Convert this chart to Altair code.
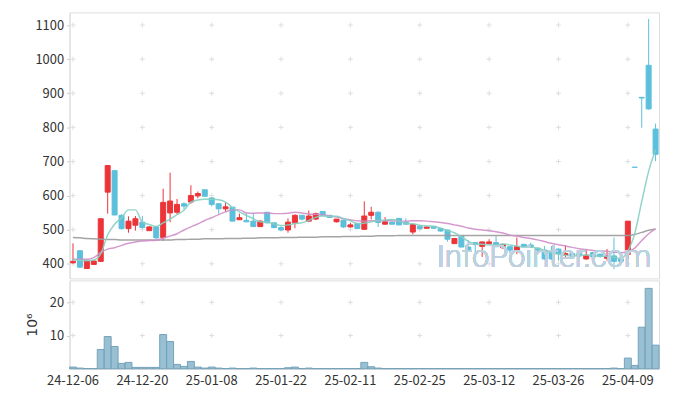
import altair as alt
import pandas as pd

dates = [
    "24-12-06", "24-12-09", "24-12-10", "24-12-11", "24-12-12", "24-12-13", "24-12-16", "24-12-17",
    "24-12-18", "24-12-19", "24-12-20", "24-12-23", "24-12-24", "24-12-26", "24-12-27", "24-12-30",
    "25-01-02", "25-01-03", "25-01-06", "25-01-07", "25-01-08", "25-01-09", "25-01-10", "25-01-13",
    "25-01-14", "25-01-15", "25-01-16", "25-01-17", "25-01-20", "25-01-21", "25-01-22", "25-01-23",
    "25-01-24", "25-01-31", "25-02-03", "25-02-04", "25-02-05", "25-02-06", "25-02-07", "25-02-10",
    "25-02-11", "25-02-12", "25-02-13", "25-02-14", "25-02-17", "25-02-18", "25-02-19", "25-02-20",
    "25-02-21", "25-02-24", "25-02-25", "25-02-26", "25-02-27", "25-02-28", "25-03-04", "25-03-05",
    "25-03-06", "25-03-07", "25-03-10", "25-03-11", "25-03-12", "25-03-13", "25-03-14", "25-03-17",
    "25-03-18", "25-03-19", "25-03-20", "25-03-21", "25-03-24", "25-03-25", "25-03-26", "25-03-27",
    "25-03-28", "25-03-31", "25-04-01", "25-04-02", "25-04-03", "25-04-04", "25-04-07", "25-04-08",
    "25-04-09", "25-04-10", "25-04-11", "25-04-14", "25-04-15",
]
opens = [
    403, 438, 386, 398, 407, 610, 673, 542, 503, 513, 522, 497, 508, 477, 549, 551,
    576, 581, 599, 617, 593, 576, 561, 566, 529, 527, 525, 509, 551, 520, 506, 499,
    520, 542, 525, 531, 553, 542, 523, 528, 508, 518, 501, 542, 551, 516, 522, 533,
    522, 493, 510, 504, 510, 503, 499, 459, 481, 449, 462, 451, 459, 462, 447, 450,
    440, 457, 455, 446, 440, 438, 443, 426, 430, 430, 414, 433, 428, 416, 423, 414,
    428, 683, 888, 982, 795,
]
highs = [
    460, 440, 410, 410, 532, 688, 673, 545, 539, 540, 540, 510, 510, 620, 667, 590,
    580, 630, 612, 617, 594, 578, 580, 566, 547, 549, 549, 528, 551, 521, 510, 533,
    545, 543, 556, 550, 553, 543, 531, 528, 520, 518, 583, 567, 554, 537, 523, 533,
    533, 517, 512, 509, 511, 504, 500, 475, 481, 469, 464, 465, 472, 481, 458, 451,
    477, 458, 462, 447, 452, 452, 445, 454, 432, 432, 440, 434, 430, 443, 477, 414,
    525, 683, 888, 1118, 811,
]
lows = [
    400, 388, 385, 397, 406, 547, 543, 500, 491, 497, 503, 497, 472, 467, 522, 545,
    559, 576, 592, 596, 568, 547, 553, 525, 529, 522, 508, 508, 518, 504, 496, 491,
    504, 527, 522, 528, 540, 534, 521, 505, 506, 502, 499, 530, 508, 514, 515, 513,
    515, 486, 500, 503, 503, 494, 465, 458, 449, 438, 428, 420, 457, 449, 443, 430,
    428, 448, 447, 434, 412, 412, 409, 418, 421, 415, 412, 418, 418, 409, 384, 397,
    414, 683, 799, 852, 701,
]
closes = [
    407, 390, 408, 408, 532, 688, 543, 503, 525, 532, 506, 508, 476, 580, 584, 574,
    569, 600, 606, 598, 574, 561, 567, 525, 535, 523, 509, 525, 520, 506, 499, 522,
    542, 531, 540, 547, 542, 536, 531, 508, 514, 503, 540, 551, 521, 523, 516, 514,
    516, 515, 503, 508, 504, 496, 472, 474, 449, 440, 457, 464, 464, 450, 457, 440,
    450, 450, 449, 435, 414, 414, 430, 430, 423, 423, 425, 420, 421, 423, 407, 407,
    525, 683, 886, 854, 721,
]
# volume in millions of shares
volumes = [
    0.5, 0.2, 0.05, 0.05, 5.8, 9.7, 6.7, 1.6, 1.9, 0.4, 0.4, 0.4, 0.4, 10.3, 8.2, 1.3,
    0.7, 2.2, 0.5, 0.2, 0.5, 0.2, 0.05, 0.2, 0.05, 0.05, 0.2, 0.05, 0.05, 0.05, 0.05, 0.3,
    0.5, 0.05, 0.2, 0.05, 0.05, 0.05, 0.05, 0.05, 0.05, 0.05, 1.9, 0.6, 0.2, 0.05, 0.05, 0.05,
    0.05, 0.05, 0.05, 0.05, 0.05, 0.05, 0.05, 0.05, 0.05, 0.05, 0.05, 0.05, 0.05, 0.05, 0.05, 0.05,
    0.05, 0.05, 0.05, 0.05, 0.05, 0.05, 0.05, 0.05, 0.05, 0.05, 0.05, 0.05, 0.05, 0.05, 0.2, 0.05,
    3.2, 1.0, 12.5, 24.2, 7.1,
]
ma5 = [
    412, 410, 409, 411, 429, 485, 516, 535, 558, 558, 522, 515, 509, 520, 531, 544,
    557, 581, 587, 589, 589, 588, 581, 565, 552, 542, 532, 523, 522, 517, 512, 514,
    518, 520, 527, 536, 540, 539, 539, 533, 526, 518, 519, 523, 526, 528, 530, 525,
    518, 517, 513, 511, 509, 505, 497, 491, 479, 466, 458, 457, 455, 455, 458, 455,
    452, 449, 449, 445, 440, 432, 428, 425, 422, 424, 426, 424, 422, 422, 419, 416,
    437, 489, 582, 671, 734,
]
ma20 = [
    413, 413, 413, 418, 433, 443, 447, 454, 460, 464, 467, 468, 469, 475, 481, 488,
    499, 508, 517, 527, 535, 544, 552, 558, 558, 549, 548, 549, 549, 547, 547, 548,
    551, 549, 546, 545, 544, 540, 537, 532, 529, 526, 525, 526, 526, 526, 526, 525,
    525, 526, 526, 525, 523, 521, 518, 514, 510, 505, 501, 499, 497, 494, 490, 484,
    481, 477, 474, 470, 465, 460, 456, 452, 448, 444, 442, 439, 438, 437, 434, 432,
    435, 446, 468, 488, 502,
]
ma60 = [
    477, 476, 474, 473, 472, 471, 471, 470, 470, 470, 470, 470, 470, 470, 470, 471,
    471, 472, 472, 473, 473, 473, 474, 474, 474, 475, 475, 476, 476, 476, 477, 477,
    477, 478, 478, 478, 479, 479, 479, 480, 480, 480, 481, 481, 482, 482, 482, 483,
    483, 483, 483, 483, 483, 483, 483, 483, 483, 483, 483, 483, 483, 483, 483, 483,
    483, 483, 483, 483, 483, 483, 483, 483, 483, 483, 483, 483, 483, 483, 483, 483,
    483, 486, 492, 498, 502,
]
price_ticks = [400, 500, 600, 700, 800, 900, 1000, 1100]
volume_ticks = [10, 20]
tick_dates = dates[::10]

RED = "#ec3438"
BLUE = "#5cc0dc"
FONT = "Noto Sans CJK KR"

df = pd.DataFrame({
    "date": dates, "open": opens, "high": highs, "low": lows, "close": closes,
    "volume": volumes, "ma5": ma5, "ma20": ma20, "ma60": ma60,
})
price_grid = pd.DataFrame([{"date": d, "v": p} for d in tick_dates for p in price_ticks])
vol_grid = pd.DataFrame([{"date": d, "v": v} for d in tick_dates for v in volume_ticks])

x_scale = alt.Scale(domain=dates, paddingInner=0, paddingOuter=0)
x_none = alt.X("date:O", scale=x_scale, axis=None)
y_price_scale = alt.Scale(domain=[357, 1137], nice=False, zero=False)
y_price_axis = alt.Axis(values=price_ticks, grid=False, title=None, domainColor="#dddddd",
                        tickColor="#cccccc", tickSize=3, labelPadding=3, labelFontSize=13,
                        labelColor="#333333", format="d", labelOverlap=False)


def py(field):
    return alt.Y(field, type="quantitative", scale=y_price_scale, axis=y_price_axis)


color_cond = alt.condition("datum.close > datum.open", alt.value(RED), alt.value(BLUE))

base = alt.Chart(df)

cross_shape = "M-1,0H1M0,-1V1"
price_cross = alt.Chart(price_grid).mark_point(
    shape=cross_shape, size=25, filled=False, stroke="#dedede", strokeWidth=1, opacity=1
).encode(x=x_none, y=py("v"))

wicks = base.mark_rule(strokeWidth=1).encode(
    x=x_none, y=py("low"), y2="high:Q", color=color_cond
)
bodies = base.mark_bar(width=alt.RelativeBandSize(0.72), strokeWidth=1).encode(
    x=x_none, y=py("open"), y2="close:Q", color=color_cond, stroke=color_cond
)
line60 = base.mark_line(color="#9a9a9a", strokeWidth=1.5, opacity=0.9, interpolate="monotone").encode(
    x=x_none, y=py("ma60"))
line20 = base.mark_line(color="#cf8ec9", strokeWidth=1.5, opacity=0.9, interpolate="monotone").encode(
    x=x_none, y=py("ma20"))
line5 = base.mark_line(color="#86cfc2", strokeWidth=1.5, opacity=0.9, interpolate="monotone").encode(
    x=x_none, y=py("ma5"))

watermark = base.mark_text(
    text="InfoPointer.com", align="right", baseline="alphabetic", font="Roboto",
    fontWeight=300, fontSize=31, color="#bcd2e0", opacity=0.75
).encode(x=alt.value(586), y=alt.value(257))

price = alt.layer(price_cross, wicks, bodies, line60, line20, line5, watermark).properties(
    width=594, height=268
)

vol_x = alt.X("date:O", scale=x_scale, axis=alt.Axis(
    values=tick_dates, labelAngle=0, ticks=False, domainColor="#dddddd", labelFontSize=13,
    labelColor="#333333", labelPadding=6, title=None, grid=False))
vol_y_scale = alt.Scale(domain=[0, 26.6], nice=False)
vol_y_axis = alt.Axis(values=volume_ticks, grid=False, title="10⁶", titleFontSize=14,
                      titleFont="DejaVu Sans", titleFontWeight="normal", titleColor="#333333",
                      domainColor="#dddddd", tickColor="#cccccc", tickSize=3, labelPadding=3,
                      labelFontSize=13, labelColor="#333333", titlePadding=10, labelOverlap=False)
vol_cross = alt.Chart(vol_grid).mark_point(
    shape=cross_shape, size=25, filled=False, stroke="#dedede", strokeWidth=1, opacity=1
).encode(x=vol_x, y=alt.Y("v:Q", scale=vol_y_scale, axis=vol_y_axis))
vol_bars = base.mark_bar(
    width=alt.RelativeBandSize(1.0), fill="#93bcd0", stroke="#6e9fb8", strokeWidth=1, opacity=0.95
).encode(x=vol_x, y=alt.Y("volume:Q", scale=vol_y_scale, axis=vol_y_axis))

volume = alt.layer(vol_cross, vol_bars).properties(width=594, height=89)

chart = alt.vconcat(price, volume, spacing=0).properties(
    padding={"left": 17, "top": 2, "right": 5, "bottom": 5}, background="white"
).configure_view(stroke="#dddddd").configure_axis(labelFont=FONT, labelOverlap=False)

chart.save("out.html", embed_options={"renderer": "svg", "actions": False})
